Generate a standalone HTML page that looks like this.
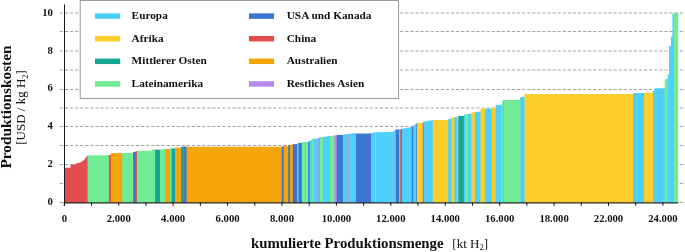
<!DOCTYPE html>
<html><head><meta charset="utf-8"><style>
html,body{margin:0;padding:0;background:#fff;width:685px;height:252px;overflow:hidden}
svg{display:block;will-change:transform}
text{font-family:"Liberation Serif",serif;fill:#111}
.lg{font-weight:bold;font-size:11.3px}
.tk{font-weight:bold;font-size:10.7px}
.ax{font-weight:bold;font-size:14.8px}
.un{font-weight:normal;font-size:13px}
</style></head><body>
<svg width="685" height="252" viewBox="0 0 685 252">
<line x1="59.8" y1="202.50" x2="685" y2="202.50" stroke="#a3a3a3" stroke-width="1" stroke-dasharray="3.2 1.88"/>
<line x1="59.8" y1="183.50" x2="685" y2="183.50" stroke="#a3a3a3" stroke-width="1" stroke-dasharray="3.2 1.88"/>
<line x1="59.8" y1="164.50" x2="685" y2="164.50" stroke="#a3a3a3" stroke-width="1" stroke-dasharray="3.2 1.88"/>
<line x1="59.8" y1="145.50" x2="685" y2="145.50" stroke="#a3a3a3" stroke-width="1" stroke-dasharray="3.2 1.88"/>
<line x1="59.8" y1="126.50" x2="685" y2="126.50" stroke="#a3a3a3" stroke-width="1" stroke-dasharray="3.2 1.88"/>
<line x1="59.8" y1="108.00" x2="685" y2="108.00" stroke="#a3a3a3" stroke-width="1" stroke-dasharray="3.2 1.88"/>
<line x1="59.8" y1="89.50" x2="685" y2="89.50" stroke="#a3a3a3" stroke-width="1" stroke-dasharray="3.2 1.88"/>
<line x1="59.8" y1="70.00" x2="685" y2="70.00" stroke="#a3a3a3" stroke-width="1" stroke-dasharray="3.2 1.88"/>
<line x1="59.8" y1="51.00" x2="685" y2="51.00" stroke="#a3a3a3" stroke-width="1" stroke-dasharray="3.2 1.88"/>
<line x1="59.8" y1="31.50" x2="685" y2="31.50" stroke="#a3a3a3" stroke-width="1" stroke-dasharray="3.2 1.88"/>
<line x1="59.8" y1="13.00" x2="685" y2="13.00" stroke="#a3a3a3" stroke-width="1" stroke-dasharray="3.2 1.88"/>
<path d="M64.5,202.9 L64.5,167.8 L70.6,167.8 L70.6,164.7 L76,164.3 L76,163.5 L78,163.1 L80,162.7 L82,161.6 L84,159.9 L85.5,158.3 L86.6,156.8 L87.19999999999999,156.8 L87.19999999999999,202.9 Z" fill="#e34c4c"/>
<path d="M86.6,202.9 L86.6,156.8 L87.0,156.3 L87.6,155.6 L88.19999999999999,155.6 L88.19999999999999,202.9 Z" fill="#d15364"/>
<path d="M87.6,202.9 L87.6,155.3 L108.9,155.3 L109.5,155.3 L109.5,202.9 Z" fill="#70ec96"/>
<path d="M108.9,202.9 L108.9,154.9 L110.8,154.9 L111.39999999999999,154.9 L111.39999999999999,202.9 Z" fill="#e34c4c"/>
<path d="M110.8,202.9 L110.8,153.1 L122.2,153.1 L122.8,153.1 L122.8,202.9 Z" fill="#f4a509"/>
<path d="M122.2,202.9 L122.2,153.0 L133.1,153.0 L133.7,153.0 L133.7,202.9 Z" fill="#70ec96"/>
<path d="M133.1,202.9 L133.1,151.9 L135.7,151.9 L136.29999999999998,151.9 L136.29999999999998,202.9 Z" fill="#3f75d2"/>
<path d="M135.7,202.9 L135.7,151.1 L136.9,151.1 L137.5,151.1 L137.5,202.9 Z" fill="#e34c4c"/>
<path d="M136.9,202.9 L136.9,150.7 L151.8,150.7 L152.2,149.5 L155,149.4 L155.6,149.4 L155.6,202.9 Z" fill="#70ec96"/>
<path d="M155,202.9 L155,149.6 L160,149.6 L160.6,149.6 L160.6,202.9 Z" fill="#16a597"/>
<path d="M160,202.9 L160,149.4 L165.3,149.4 L165.9,149.4 L165.9,202.9 Z" fill="#70ec96"/>
<path d="M165.3,202.9 L165.3,149.0 L170,149.0 L170.6,149.0 L170.6,202.9 Z" fill="#f4a509"/>
<path d="M170,202.9 L170,148.5 L171.5,148.5 L172.1,148.5 L172.1,202.9 Z" fill="#70ec96"/>
<path d="M171.5,202.9 L171.5,148.4 L175,148.4 L175.6,148.4 L175.6,202.9 Z" fill="#16a597"/>
<path d="M175,202.9 L175,147.6 L181,147.6 L181.6,147.6 L181.6,202.9 Z" fill="#f4a509"/>
<path d="M181,202.9 L181,146.6 L184.1,146.6 L184.7,146.6 L184.7,202.9 Z" fill="#16a597"/>
<path d="M184.1,202.9 L184.1,146.6 L186.5,146.6 L187.1,146.6 L187.1,202.9 Z" fill="#3f75d2"/>
<path d="M186.5,202.9 L186.5,146.8 L281.7,146.8 L282.3,146.8 L282.3,202.9 Z" fill="#f4a509"/>
<path d="M281.7,202.9 L281.7,146.4 L283.7,146.4 L284.3,146.4 L284.3,202.9 Z" fill="#3f75d2"/>
<path d="M283.7,202.9 L283.7,145.7 L288.2,145.7 L288.8,145.7 L288.8,202.9 Z" fill="#f4a509"/>
<path d="M288.2,202.9 L288.2,145.1 L290,145.1 L290.6,145.1 L290.6,202.9 Z" fill="#3f75d2"/>
<path d="M290,202.9 L290,144.7 L292.8,144.7 L293.40000000000003,144.7 L293.40000000000003,202.9 Z" fill="#f4a509"/>
<path d="M292.8,202.9 L292.8,144.1 L297,144.1 L297.6,144.1 L297.6,202.9 Z" fill="#3f75d2"/>
<path d="M297,202.9 L297,143.5 L297.7,143.5 L298.3,143.5 L298.3,202.9 Z" fill="#f4a509"/>
<path d="M297.7,202.9 L297.7,143.0 L298.5,143.0 L299.1,143.0 L299.1,202.9 Z" fill="#4dd0fc"/>
<path d="M298.5,202.9 L298.5,142.9 L301.8,142.9 L302.40000000000003,142.9 L302.40000000000003,202.9 Z" fill="#3f75d2"/>
<path d="M301.8,202.9 L301.8,142.0 L308,142.0 L308.6,142.0 L308.6,202.9 Z" fill="#70ec96"/>
<path d="M308,202.9 L308,141.4 L309.9,141.2 L310.5,141.2 L310.5,202.9 Z" fill="#4f8fd8"/>
<path d="M309.9,202.9 L309.9,141.0 L312,139.5 L312.6,139.5 L312.6,202.9 Z" fill="#4dd0fc"/>
<path d="M312,202.9 L312,139.0 L313.5,139.0 L314.1,139.0 L314.1,202.9 Z" fill="#70ec96"/>
<path d="M313.5,202.9 L313.5,138.7 L318.4,138.7 L319.0,138.7 L319.0,202.9 Z" fill="#4dd0fc"/>
<path d="M318.4,202.9 L318.4,137.4 L319.8,137.4 L320.40000000000003,137.4 L320.40000000000003,202.9 Z" fill="#b68aea"/>
<path d="M319.8,202.9 L319.8,137.1 L323,137.1 L323.6,137.1 L323.6,202.9 Z" fill="#70ec96"/>
<path d="M323,202.9 L323,136.9 L330,135.9 L330.6,135.9 L330.6,202.9 Z" fill="#4dd0fc"/>
<path d="M330,202.9 L330,135.8 L334.3,135.8 L334.90000000000003,135.8 L334.90000000000003,202.9 Z" fill="#70ec96"/>
<path d="M334.3,202.9 L334.3,135.3 L336.7,135.3 L337.3,135.3 L337.3,202.9 Z" fill="#b68aea"/>
<path d="M336.7,202.9 L336.7,134.9 L342.9,134.9 L343.5,134.9 L343.5,202.9 Z" fill="#3f75d2"/>
<path d="M342.9,202.9 L342.9,134.5 L345.2,134.5 L345.8,134.5 L345.8,202.9 Z" fill="#4dd0fc"/>
<path d="M345.0,202.9 L345.0,134.1 L347.5,134.1 L348.1,134.1 L348.1,202.9 Z" fill="#5dc9d8"/>
<path d="M347.5,202.9 L347.5,133.9 L349.7,133.9 L350.3,133.9 L350.3,202.9 Z" fill="#a8a4e2"/>
<path d="M349.7,202.9 L349.7,133.5 L356,133.3 L356.6,133.3 L356.6,202.9 Z" fill="#4dd0fc"/>
<path d="M356,202.9 L356,133.6 L371.1,133.6 L371.70000000000005,133.6 L371.70000000000005,202.9 Z" fill="#3f75d2"/>
<path d="M371.1,202.9 L371.1,133.1 L375.2,132.2 L375.8,132.2 L375.8,202.9 Z" fill="#4dd0fc"/>
<path d="M375.2,202.9 L375.2,132.2 L375.9,132.2 L376.5,132.2 L376.5,202.9 Z" fill="#70ec96"/>
<path d="M375.9,202.9 L375.9,132.2 L392.3,132.1 L392.90000000000003,132.1 L392.90000000000003,202.9 Z" fill="#4dd0fc"/>
<path d="M392.3,202.9 L392.3,132.0 L393.1,131.6 L393.70000000000005,131.6 L393.70000000000005,202.9 Z" fill="#68c4d4"/>
<path d="M393.1,202.9 L393.1,131.5 L395.8,129.7 L396.40000000000003,129.7 L396.40000000000003,202.9 Z" fill="#4dd0fc"/>
<path d="M395.8,202.9 L395.8,129.4 L399,129.4 L399.6,129.4 L399.6,202.9 Z" fill="#3f75d2"/>
<path d="M399,202.9 L399,129.3 L400.3,129.3 L400.90000000000003,129.3 L400.90000000000003,202.9 Z" fill="#4dd0fc"/>
<path d="M400.3,202.9 L400.3,129.2 L402,129.2 L402.6,129.2 L402.6,202.9 Z" fill="#e34c4c"/>
<path d="M402,202.9 L402,128.5 L405,128.3 L408,127.7 L411.8,127.1 L412.40000000000003,127.1 L412.40000000000003,202.9 Z" fill="#4dd0fc"/>
<path d="M411.8,202.9 L411.8,126.9 L413.3,126.9 L413.90000000000003,126.9 L413.90000000000003,202.9 Z" fill="#3f75d2"/>
<path d="M413.3,202.9 L413.3,125.3 L416.2,123.7 L416.8,123.7 L416.8,202.9 Z" fill="#4dd0fc"/>
<path d="M416.2,202.9 L416.2,123.4 L416.9,123.3 L417.5,123.3 L417.5,202.9 Z" fill="#3f75d2"/>
<path d="M416.9,202.9 L416.9,122.9 L422.7,122.9 L423.3,122.9 L423.3,202.9 Z" fill="#fecf2a"/>
<path d="M422.7,202.9 L422.7,122.2 L423.8,122.2 L424.40000000000003,122.2 L424.40000000000003,202.9 Z" fill="#c45fa5"/>
<path d="M423.8,202.9 L423.8,121.8 L432.8,119.9 L433.40000000000003,119.9 L433.40000000000003,202.9 Z" fill="#4dd0fc"/>
<path d="M432.8,202.9 L432.8,119.9 L448.2,119.9 L448.8,119.9 L448.8,202.9 Z" fill="#fecf2a"/>
<path d="M448.2,202.9 L448.2,119.3 L451.4,118.4 L452.0,118.4 L452.0,202.9 Z" fill="#4dd0fc"/>
<path d="M451.4,202.9 L451.4,117.7 L454.4,117.7 L455.0,117.7 L455.0,202.9 Z" fill="#fecf2a"/>
<path d="M454.4,202.9 L454.4,117.1 L457.1,117.1 L457.70000000000005,117.1 L457.70000000000005,202.9 Z" fill="#4dd0fc"/>
<path d="M457.1,202.9 L457.1,116.8 L458.3,116.8 L458.90000000000003,116.8 L458.90000000000003,202.9 Z" fill="#fecf2a"/>
<path d="M458.3,202.9 L458.3,115.9 L463.8,115.9 L464.40000000000003,115.9 L464.40000000000003,202.9 Z" fill="#16a597"/>
<path d="M463.8,202.9 L463.8,115.0 L465,114.5 L465.6,114.5 L465.6,202.9 Z" fill="#4dd0fc"/>
<path d="M465,202.9 L465,114.1 L468.3,114.1 L468.90000000000003,114.1 L468.90000000000003,202.9 Z" fill="#70ec96"/>
<path d="M468.3,202.9 L468.3,113.9 L471.3,113.9 L471.90000000000003,113.9 L471.90000000000003,202.9 Z" fill="#4dd0fc"/>
<path d="M471.3,202.9 L471.3,112.4 L474.9,112.4 L475.5,112.4 L475.5,202.9 Z" fill="#fecf2a"/>
<path d="M474.9,202.9 L474.9,111.9 L480.5,111.5 L481.1,111.5 L481.1,202.9 Z" fill="#4dd0fc"/>
<path d="M480.5,202.9 L480.5,108.8 L484.9,108.8 L485.5,108.8 L485.5,202.9 Z" fill="#fecf2a"/>
<path d="M484.9,202.9 L484.9,108.8 L491.7,108.8 L492.3,108.8 L492.3,202.9 Z" fill="#4dd0fc"/>
<path d="M491.7,202.9 L491.7,108.1 L495.6,108.1 L496.20000000000005,108.1 L496.20000000000005,202.9 Z" fill="#fecf2a"/>
<path d="M495.6,202.9 L495.6,104.9 L501.3,104.9 L501.90000000000003,104.9 L501.90000000000003,202.9 Z" fill="#4dd0fc"/>
<path d="M501.3,202.9 L501.3,104.9 L502.8,101.9 L503.40000000000003,101.9 L503.40000000000003,202.9 Z" fill="#70ec96"/>
<path d="M502.8,202.9 L502.8,100.1 L504,100.1 L504.6,100.1 L504.6,202.9 Z" fill="#4dd0fc"/>
<path d="M504,202.9 L504,99.9 L519.7,99.9 L520.3000000000001,99.9 L520.3000000000001,202.9 Z" fill="#70ec96"/>
<path d="M519.7,202.9 L519.7,99.0 L520.5,97.9 L521.1,97.9 L521.1,202.9 Z" fill="#70ec96"/>
<path d="M520.5,202.9 L520.5,96.9 L524.6,96.9 L525.2,96.9 L525.2,202.9 Z" fill="#4dd0fc"/>
<path d="M524.6,202.9 L524.6,94.1 L633.1,94.1 L633.7,94.1 L633.7,202.9 Z" fill="#fecf2a"/>
<path d="M633.1,202.9 L633.1,93.1 L644,93.1 L644.6,93.1 L644.6,202.9 Z" fill="#4dd0fc"/>
<path d="M644,202.9 L644,92.7 L652.9,92.7 L653.5,92.7 L653.5,202.9 Z" fill="#fecf2a"/>
<path d="M652.9,202.9 L652.9,91.2 L654.3,89.6 L654.9,89.6 L654.9,202.9 Z" fill="#4dd0fc"/>
<path d="M654.3,202.9 L654.3,89.0 L655.3,88.3 L655.9,88.3 L655.9,202.9 Z" fill="#5cc6e6"/>
<path d="M655.3,202.9 L655.3,88.3 L664.7,88.2 L665.3000000000001,88.2 L665.3000000000001,202.9 Z" fill="#4dd0fc"/>
<path d="M664.7,202.9 L664.7,81.0 L665.2,79.6 L665.8,79.0 L667.8,79.0 L668.4,79.0 L668.4,202.9 Z" fill="#70ec96"/>
<path d="M667.8,202.9 L667.8,74.5 L669.1,74.5 L669.7,74.5 L669.7,202.9 Z" fill="#4dd0fc"/>
<path d="M669.1,202.9 L669.1,45.9 L670.9,45.9 L671.5,45.9 L671.5,202.9 Z" fill="#4dd0fc"/>
<path d="M670.9,202.9 L670.9,36.7 L672.4,36.7 L673.0,36.7 L673.0,202.9 Z" fill="#4dd0fc"/>
<path d="M672.4,202.9 L672.4,13.7 L673.9,13.7 L674.5,13.7 L674.5,202.9 Z" fill="#4dd0fc"/>
<path d="M673.9,202.9 L673.9,12.7 L678.2,12.7 L678.2,12.7 L678.2,202.9 Z" fill="#70ec96"/>
<line x1="64.5" y1="4.4" x2="64.5" y2="205.8" stroke="#1a1a1a" stroke-width="1.05"/>
<line x1="63.8" y1="202.85" x2="678.2" y2="202.85" stroke="#2a2a2a" stroke-width="1.2"/>
<line x1="64.30" y1="202.5" x2="64.30" y2="205.8" stroke="#111" stroke-width="1"/>
<line x1="91.51" y1="202.5" x2="91.51" y2="205.8" stroke="#111" stroke-width="1"/>
<line x1="118.72" y1="202.5" x2="118.72" y2="205.8" stroke="#111" stroke-width="1"/>
<line x1="145.93" y1="202.5" x2="145.93" y2="205.8" stroke="#111" stroke-width="1"/>
<line x1="173.14" y1="202.5" x2="173.14" y2="205.8" stroke="#111" stroke-width="1"/>
<line x1="200.35" y1="202.5" x2="200.35" y2="205.8" stroke="#111" stroke-width="1"/>
<line x1="227.56" y1="202.5" x2="227.56" y2="205.8" stroke="#111" stroke-width="1"/>
<line x1="254.77" y1="202.5" x2="254.77" y2="205.8" stroke="#111" stroke-width="1"/>
<line x1="281.98" y1="202.5" x2="281.98" y2="205.8" stroke="#111" stroke-width="1"/>
<line x1="309.19" y1="202.5" x2="309.19" y2="205.8" stroke="#111" stroke-width="1"/>
<line x1="336.40" y1="202.5" x2="336.40" y2="205.8" stroke="#111" stroke-width="1"/>
<line x1="363.61" y1="202.5" x2="363.61" y2="205.8" stroke="#111" stroke-width="1"/>
<line x1="390.82" y1="202.5" x2="390.82" y2="205.8" stroke="#111" stroke-width="1"/>
<line x1="418.03" y1="202.5" x2="418.03" y2="205.8" stroke="#111" stroke-width="1"/>
<line x1="445.24" y1="202.5" x2="445.24" y2="205.8" stroke="#111" stroke-width="1"/>
<line x1="472.45" y1="202.5" x2="472.45" y2="205.8" stroke="#111" stroke-width="1"/>
<line x1="499.66" y1="202.5" x2="499.66" y2="205.8" stroke="#111" stroke-width="1"/>
<line x1="526.87" y1="202.5" x2="526.87" y2="205.8" stroke="#111" stroke-width="1"/>
<line x1="554.08" y1="202.5" x2="554.08" y2="205.8" stroke="#111" stroke-width="1"/>
<line x1="581.29" y1="202.5" x2="581.29" y2="205.8" stroke="#111" stroke-width="1"/>
<line x1="608.50" y1="202.5" x2="608.50" y2="205.8" stroke="#111" stroke-width="1"/>
<line x1="635.71" y1="202.5" x2="635.71" y2="205.8" stroke="#111" stroke-width="1"/>
<line x1="662.92" y1="202.5" x2="662.92" y2="205.8" stroke="#111" stroke-width="1"/>
<rect x="80.2" y="0.5" width="318.4" height="98" fill="#fff" stroke="#9a9a9a" stroke-width="1"/>
<rect x="95.0" y="13.35" width="25.2" height="5.5" fill="#4dd0fc"/>
<text x="131.6" y="19.10" class="lg">Europa</text>
<rect x="95.0" y="35.95" width="25.2" height="5.5" fill="#fecf2a"/>
<text x="131.6" y="41.70" class="lg">Afrika</text>
<rect x="95.0" y="58.55" width="25.2" height="5.5" fill="#16a597"/>
<text x="131.6" y="64.30" class="lg">Mittlerer Osten</text>
<rect x="95.0" y="81.15" width="25.2" height="5.5" fill="#70ec96"/>
<text x="131.6" y="86.90" class="lg">Lateinamerika</text>
<rect x="248.9" y="13.35" width="25.2" height="5.5" fill="#3f75d2"/>
<text x="286.7" y="19.10" class="lg">USA und Kanada</text>
<rect x="248.9" y="35.95" width="25.2" height="5.5" fill="#e34c4c"/>
<text x="286.7" y="41.70" class="lg">China</text>
<rect x="248.9" y="58.55" width="25.2" height="5.5" fill="#f4a509"/>
<text x="286.7" y="64.30" class="lg">Australien</text>
<rect x="248.9" y="81.15" width="25.2" height="5.5" fill="#b68aea"/>
<text x="286.7" y="86.90" class="lg">Restliches Asien</text>
<text x="52.9" y="205.15" class="tk" text-anchor="end">0</text>
<text x="52.9" y="167.26" class="tk" text-anchor="end">2</text>
<text x="52.9" y="129.37" class="tk" text-anchor="end">4</text>
<text x="52.9" y="91.48" class="tk" text-anchor="end">6</text>
<text x="52.9" y="53.59" class="tk" text-anchor="end">8</text>
<text x="52.9" y="15.70" class="tk" text-anchor="end">10</text>
<text x="64.30" y="222.3" class="tk" text-anchor="middle">0</text>
<text x="118.72" y="222.3" class="tk" text-anchor="middle">2.000</text>
<text x="173.14" y="222.3" class="tk" text-anchor="middle">4.000</text>
<text x="227.56" y="222.3" class="tk" text-anchor="middle">6.000</text>
<text x="281.98" y="222.3" class="tk" text-anchor="middle">8.000</text>
<text x="336.40" y="222.3" class="tk" text-anchor="middle">10.000</text>
<text x="390.82" y="222.3" class="tk" text-anchor="middle">12.000</text>
<text x="445.24" y="222.3" class="tk" text-anchor="middle">14.000</text>
<text x="499.66" y="222.3" class="tk" text-anchor="middle">16.000</text>
<text x="554.08" y="222.3" class="tk" text-anchor="middle">18.000</text>
<text x="608.50" y="222.3" class="tk" text-anchor="middle">22.000</text>
<text x="662.92" y="222.3" class="tk" text-anchor="middle">24.000</text>
<text x="251" y="247.8" class="ax">kumulierte Produktionsmenge</text>
<text x="452.3" y="247.8" class="un">[kt H<tspan font-size="8.5" dy="2.4">2</tspan><tspan dy="-2.4">]</tspan></text>
<text transform="translate(11.2,107) rotate(-90)" class="ax" text-anchor="middle" style="font-size:15.3px">Produktionskosten</text>
<text transform="translate(25.2,107.4) rotate(-90)" class="un" text-anchor="middle">[USD / kg H<tspan font-size="8.5" dy="2.4">2</tspan><tspan dy="-2.4">]</tspan></text>
</svg>
</body></html>
